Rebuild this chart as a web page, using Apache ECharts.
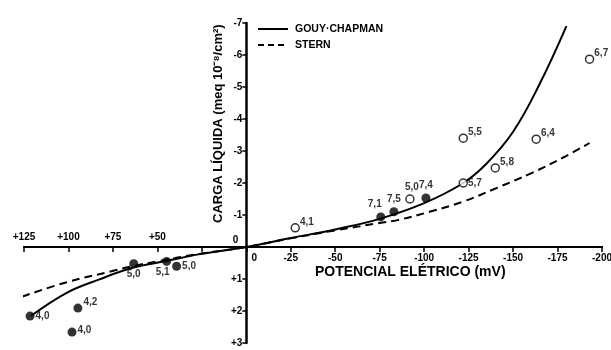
<!DOCTYPE html>
<html>
<head>
<meta charset="utf-8">
<script src="https://cdn.jsdelivr.net/npm/echarts@6/dist/echarts.min.js"></script>
<style>
html,body{margin:0;padding:0;background:#fff;}
#c{width:611px;height:350px;}
</style>
</head>
<body>
<div id="c"></div>
<script>
// ---- data ----
var xTicks = [125, 100, 75, 50, 25, 0, -25, -50, -75, -100, -125, -150, -175, -200];
var yTicks = [-7, -6, -5, -4, -3, -2, -1, 0, 1, 2, 3];

var gouyX = [121, 101, 83, 64, 45, 27, 0, -25, -50, -75, -100, -122, -135, -150, -165, -180];
var gouyY = [2.15, 1.43, 1.02, 0.65, 0.44, 0.23, 0, -0.28, -0.55, -0.88, -1.37, -2.0, -2.6, -3.6, -5.1, -6.9];

var sternX = [126, 101, 76, 64, 50, 27, 0, -25, -50, -75, -85, -103, -122, -141, -160, -179, -193];
var sternY = [1.55, 1.1, 0.76, 0.6, 0.45, 0.22, 0, -0.27, -0.52, -0.75, -0.84, -1.1, -1.42, -1.85, -2.3, -2.82, -3.25];

var filledX = [121.6, 94.7, 98, 63.3, 44.8, 39.2, -75.6, -83, -101];
var filledY = [2.16, 1.91, 2.66, 0.52, 0.45, 0.6, -0.94, -1.1, -1.53];
var filledLabels = ['4,0', '4,2', '4,0', '5,0', '5,1', '5,0', '7,1', '7,5', '7,4'];

var openX = [-27.5, -92, -122, -122, -140, -163, -193];
var openY = [-0.6, -1.5, -3.4, -2.0, -2.47, -3.37, -5.87];
var openLabels = ['4,1', '5,0', '5,5', '5,7', '5,8', '6,4', '6,7'];

var seriesNames = ['GOUY·CHAPMAN', 'STERN'];
var yName = 'CARGA LÍQUIDA (meq 10⁻⁸/cm²)';
var xName = 'POTENCIAL ELÉTRICO (mV)';

// ---- style (label placement) ----
var filledLabelPos = ['right', 'right', 'right', 'bottom', 'bottom', 'right', 'top', 'top', 'top'];
var openLabelPos = ['right', 'top', 'right', 'right', 'right', 'right', 'right'];
var openLabelOffset = [[-2,-6],[2,0],[-2,-6],[-2,0],[-2,-6],[-2,-6],[-2,-6]];
var filledLabelOffset = [[-2,0],[-2,-6],[-2,-2],[0,-2],[-4,-2],[-2,0],[-6,0],[0,0],[0,0]];

function pairs(xs, ys) { return xs.map(function (x, i) { return [x, ys[i]]; }); }

var FONT = 'Liberation Sans';
var labelStyle = {fontFamily: FONT, fontWeight: 'bold', fontSize: 10, color: '#000'};

var G = {left: 24, right: 9, top: 23, bottom: 7};
var W = 611, H = 350;
var gw = W - G.left - G.right, gh = H - G.top - G.bottom;
var xZeroFrac = (125 - 0) / (125 - (-200));
var yZeroFrac = (0 - (-7)) / (3 - (-7));
var yAxisOffset = -(gw * xZeroFrac);
var xAxisOffset = -(gh * (1 - yZeroFrac));

var chart = echarts.init(document.getElementById('c'), null, {renderer: 'canvas'});

var xCommon = {
  type: 'value', min: -200, max: 125, interval: 25, inverse: true,
  gridIndex: 0, position: 'bottom', offset: xAxisOffset,
  axisLine: {onZero: false, lineStyle: {color: '#000', width: 2}},
  axisTick: {show: true, length: 5, lineStyle: {color: '#000', width: 1.5}},
  splitLine: {show: false}
};

var option = {
  backgroundColor: '#fff',
  animation: false,
  grid: {left: G.left, right: G.right, top: G.top, bottom: G.bottom, containLabel: false, outerBoundsMode: 'none'},
  xAxis: [
    Object.assign({}, xCommon, {
      axisLabel: {
        fontFamily: FONT, fontWeight: 'bold', fontSize: 10, color: '#000', margin: 6,
        formatter: function (v) { if (v > 0) return ''; if (v === 0) return '{z|0}'; return String(v); },
        rich: {z: {fontFamily: FONT, fontWeight: 'bold', fontSize: 10, color: '#000', padding: [0, 0, 0, 16]}}
      }
    }),
    Object.assign({}, xCommon, {
      axisTick: {show: false},
      axisLabel: {
        inside: true, margin: 5,
        fontFamily: FONT, fontWeight: 'bold', fontSize: 10, color: '#000',
        formatter: function (v) { if (v > 25) return '+' + v; return ''; }
      }
    })
  ],
  yAxis: {
    type: 'value', min: -7, max: 3, interval: 1, inverse: true,
    position: 'left', offset: yAxisOffset,
    axisLine: {onZero: false, lineStyle: {color: '#000', width: 2.5}},
    axisTick: {show: true, length: 4, lineStyle: {color: '#000', width: 1.5}},
    splitLine: {show: false},
    axisLabel: {
      fontFamily: FONT, fontWeight: 'bold', fontSize: 10, color: '#000', margin: 4,
      formatter: function (v) { if (v === 0) return '{z|0}'; return v > 0 ? '+' + v : String(v); },
      rich: {z: {fontFamily: FONT, fontWeight: 'bold', fontSize: 10, color: '#000', padding: [0, 4, 14, 0]}}
    }
  },
  graphic: [
    {type: 'text', x: 218, y: 223, rotation: Math.PI / 2,
      style: {text: yName, fontFamily: FONT, fontWeight: 'bold', fontSize: 13, fill: '#000', verticalAlign: 'middle'}},
    {type: 'text', x: 315, y: 272,
      style: {text: xName, fontFamily: FONT, fontWeight: 'bold', fontSize: 14, fill: '#000', verticalAlign: 'middle'}},
    {type: 'line', shape: {x1: 258, y1: 29, x2: 288, y2: 29}, style: {stroke: '#000', lineWidth: 2}},
    {type: 'line', shape: {x1: 258, y1: 45, x2: 288, y2: 45}, style: {stroke: '#000', lineWidth: 2, lineDash: [6, 4]}},
    {type: 'text', x: 295, y: 29, style: {text: seriesNames[0], fontFamily: FONT, fontWeight: 'bold', fontSize: 10.5, fill: '#000', verticalAlign: 'middle'}},
    {type: 'text', x: 295, y: 45, style: {text: seriesNames[1], fontFamily: FONT, fontWeight: 'bold', fontSize: 10.5, fill: '#000', verticalAlign: 'middle'}}
  ],
  series: [
    {name: seriesNames[0], type: 'line', smooth: 0.4, symbol: 'none', data: pairs(gouyX, gouyY),
      lineStyle: {color: '#000', width: 2, type: 'solid'}, itemStyle: {color: '#000'}, z: 3},
    {name: seriesNames[1], type: 'line', smooth: 0.4, symbol: 'none', data: pairs(sternX, sternY),
      lineStyle: {color: '#000', width: 2, type: [8, 5]}, itemStyle: {color: '#000'}, z: 3},
    {type: 'scatter', symbolSize: 9, itemStyle: {color: '#000'}, z: 5,
      data: filledX.map(function (x, i) {
        return {value: [x, filledY[i]], label: Object.assign({show: true, formatter: filledLabels[i],
          position: filledLabelPos[i], offset: filledLabelOffset[i], distance: 3}, labelStyle)};
      })},
    {type: 'scatter', symbolSize: 8, itemStyle: {color: '#fff', borderColor: '#000', borderWidth: 1.5}, z: 5,
      data: openX.map(function (x, i) {
        return {value: [x, openY[i]], label: Object.assign({show: true, formatter: openLabels[i],
          position: openLabelPos[i], offset: openLabelOffset[i], distance: 2}, labelStyle)};
      })}
  ]
};
chart.setOption(option);
</script>
</body>
</html>
